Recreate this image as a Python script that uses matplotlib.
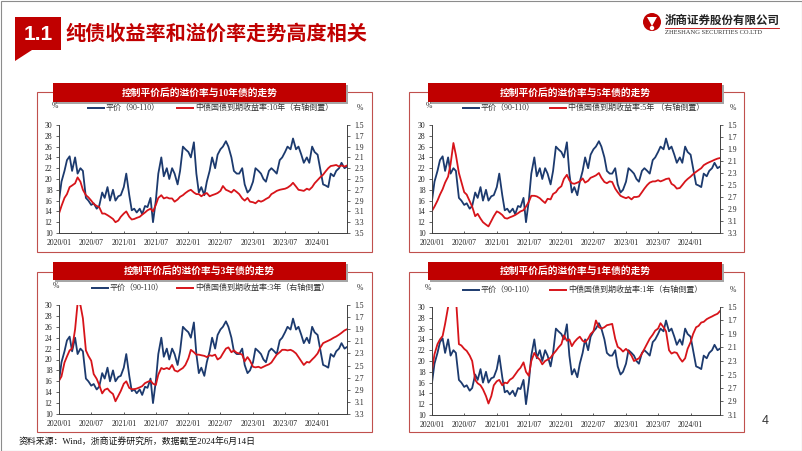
import matplotlib
matplotlib.use('Agg')
import matplotlib.pyplot as plt
import matplotlib.dates as mdates
from matplotlib.patches import Rectangle, Polygon, Circle
from matplotlib.ticker import FormatStrFormatter
import numpy as np
import pandas as pd

plt.rcParams['font.family'] = ['Liberation Serif', 'Noto Sans CJK SC', 'DejaVu Sans']

W, H = 802, 451
BLUE = '#1C3A6E'
RED = '#D7141A'
DARK_RED = '#C00000'

# semi-monthly observations, 2020-01-01 .. 2024-06-15
dates = pd.date_range('2020-01-01', '2024-06-15', freq='SMS')

# 平价（90-110）溢价率, %
premium = [
    16.0, 19.5, 21.5, 23.5, 24.2, 21.5, 24.0, 21.0, 22.0, 21.5, 16.5, 16.0,
    15.2, 15.5, 14.5, 15.0, 17.5, 16.5, 18.5, 16.0, 18.0, 16.0, 16.8, 17.0,
    18.5, 21.0, 17.0, 14.2, 14.5, 13.8, 14.5, 13.5, 15.0, 14.8, 16.5, 12.0,
    16.0, 21.0, 24.0, 20.5, 22.0, 20.0, 22.0, 21.0, 19.0, 21.5, 26.0, 25.5,
    25.0, 24.0, 26.8, 21.0, 17.5, 18.5, 17.0, 19.5, 21.5, 24.0, 22.0, 24.5,
    25.5, 26.0, 27.0, 26.0, 24.0, 21.5, 21.0, 21.0, 22.0, 19.0, 17.5, 18.0,
    19.5, 22.0, 21.5, 21.0, 20.0, 19.5, 21.5, 22.0, 21.5, 21.0, 23.5, 24.0,
    25.0, 26.0, 25.5, 27.5, 25.5, 26.0, 24.5, 23.0, 24.0, 23.0, 26.0, 25.0,
    24.5, 22.0, 19.0, 18.8, 18.5, 21.0, 20.5, 21.5, 22.0, 23.0, 22.0, 22.3,
]

# 中债国债到期收益率, %
cgb10 = [
    3.14, 3.00, 2.85, 2.78, 2.65, 2.62, 2.58, 2.47, 2.55, 2.70, 2.80, 2.84,
    2.90, 2.96, 3.00, 3.02, 3.14, 3.14, 3.17, 3.20, 3.24, 3.30, 3.27, 3.20,
    3.14, 3.10, 3.20, 3.25, 3.24, 3.22, 3.20, 3.16, 3.12, 3.08, 3.05, 3.10,
    2.98, 2.85, 2.80, 2.86, 2.84, 2.86, 2.86, 2.92, 2.88, 2.83, 2.80, 2.76,
    2.72, 2.70, 2.75, 2.78, 2.78, 2.82, 2.78, 2.76, 2.82, 2.80, 2.78, 2.76,
    2.72, 2.63, 2.70, 2.72, 2.75, 2.70, 2.74, 2.78, 2.86, 2.90, 2.85, 2.92,
    2.93, 2.95, 2.90, 2.92, 2.90, 2.87, 2.84, 2.78, 2.75, 2.72, 2.70, 2.69,
    2.68, 2.66, 2.62, 2.57, 2.64, 2.70, 2.71, 2.72, 2.68, 2.70, 2.65, 2.58,
    2.52, 2.47, 2.42, 2.36, 2.30, 2.26, 2.25, 2.24, 2.27, 2.25, 2.27, 2.25,
]
cgb5 = [
    2.93, 2.86, 2.76, 2.66, 2.57, 2.46, 2.36, 2.15, 1.80, 2.00, 2.30, 2.45,
    2.62, 2.66, 2.77, 2.86, 3.02, 2.98, 3.06, 3.12, 3.16, 3.19, 3.10, 3.02,
    2.94, 2.96, 3.00, 3.05, 3.06, 3.04, 3.02, 3.00, 2.97, 2.94, 2.92, 2.86,
    2.78, 2.68, 2.68, 2.69, 2.72, 2.76, 2.80, 2.73, 2.74, 2.65, 2.62, 2.56,
    2.52, 2.40, 2.33, 2.42, 2.47, 2.48, 2.46, 2.44, 2.39, 2.46, 2.43, 2.38,
    2.36, 2.34, 2.30, 2.38, 2.45, 2.47, 2.44, 2.45, 2.56, 2.62, 2.68, 2.70,
    2.72, 2.70, 2.74, 2.70, 2.70, 2.69, 2.62, 2.56, 2.50, 2.46, 2.44, 2.44,
    2.42, 2.44, 2.42, 2.40, 2.39, 2.48, 2.51, 2.56, 2.55, 2.50, 2.44, 2.40,
    2.36, 2.32, 2.28, 2.25, 2.22, 2.17, 2.14, 2.12, 2.10, 2.08, 2.06, 2.05,
]
cgb3 = [
    2.75, 2.68, 2.45, 2.35, 2.25, 2.22, 1.90, 1.47, 1.50, 1.72, 2.25, 2.34,
    2.42, 2.64, 2.72, 2.82, 2.96, 2.90, 2.88, 2.93, 2.97, 3.09, 3.00, 2.92,
    2.80, 2.76, 2.87, 2.89, 2.89, 2.88, 2.86, 2.84, 2.79, 2.77, 2.75, 2.80,
    2.82, 2.65, 2.54, 2.56, 2.54, 2.56, 2.49, 2.58, 2.60, 2.57, 2.54, 2.49,
    2.38, 2.24, 2.28, 2.32, 2.32, 2.33, 2.34, 2.36, 2.33, 2.34, 2.32, 2.40,
    2.37, 2.30, 2.22, 2.20, 2.28, 2.25, 2.29, 2.30, 2.32, 2.43, 2.36, 2.42,
    2.52, 2.53, 2.52, 2.54, 2.52, 2.50, 2.48, 2.45, 2.38, 2.32, 2.28, 2.24,
    2.24, 2.25, 2.24, 2.26, 2.30, 2.36, 2.43, 2.49, 2.44, 2.45, 2.40, 2.36,
    2.30, 2.21, 2.13, 2.11, 2.09, 2.07, 2.04, 2.02, 1.99, 1.96, 1.92, 1.90,
]
cgb1 = [
    2.44, 2.20, 2.05, 1.98, 1.93, 1.75, 1.50, 1.30, 1.15, 1.35, 2.05, 2.07,
    2.12, 2.15, 2.22, 2.30, 2.58, 2.63, 2.66, 2.72, 2.82, 2.93, 2.82, 2.66,
    2.60, 2.58, 2.66, 2.62, 2.63, 2.58, 2.55, 2.50, 2.44, 2.40, 2.32, 2.46,
    2.52, 2.30, 2.18, 2.24, 2.28, 2.35, 2.30, 2.28, 2.25, 2.20, 2.15, 2.10,
    2.05, 1.92, 2.00, 1.98, 2.08, 2.02, 1.97, 1.94, 2.00, 2.02, 1.97, 1.90,
    1.86, 1.70, 1.80, 1.82, 1.80, 1.77, 1.76, 1.75, 1.97, 2.09, 2.12, 2.16,
    2.12, 2.16, 2.22, 2.30, 2.28, 2.26, 2.19, 2.12, 2.04, 1.97, 1.91, 1.85,
    1.82, 1.74, 1.80, 1.86, 2.14, 2.19, 2.17, 2.18, 2.26, 2.31, 2.26, 2.12,
    2.02, 1.90, 1.80, 1.78, 1.73, 1.72, 1.68, 1.66, 1.64, 1.62, 1.60, 1.56,
]

yields = [cgb10, cgb5, cgb3, cgb1]
titles = ['控制平价后的溢价率与10年债的走势', '控制平价后的溢价率与5年债的走势',
          '控制平价后的溢价率与3年债的走势', '控制平价后的溢价率与1年债的走势']
blue_label = '平价（90-110）'
red_labels = ['中债国债到期收益率:10年（右轴倒置）', '中债国债到期收益率:5年 （右轴倒置）',
              '中债国债到期收益率:3年（右轴倒置）', '中债国债到期收益率:1年（右轴倒置）']
right_bottom = [3.5, 3.3, 3.3, 3.1]

# layout in pixels (x, y from top-left)
panels = [
    dict(box=(37, 92, 372, 252), banner=(53, 83, 346, 102), plot=(59, 125, 347, 233),
         leg_y=108, blue_x=88, red_x=177, pct_l=55, pct_r=360),
    dict(box=(409, 92, 744, 252), banner=(428, 83, 722, 102), plot=(432, 125, 720, 233),
         leg_y=108, blue_x=463, red_x=550, pct_l=429, pct_r=733),
    dict(box=(37, 272, 372, 432), banner=(53, 262, 346, 280), plot=(59, 305, 347, 414),
         leg_y=288, blue_x=92, red_x=177, pct_l=56, pct_r=360),
    dict(box=(409, 272, 744, 432), banner=(428, 262, 722, 280), plot=(432, 307, 720, 415),
         leg_y=290, blue_x=463, red_x=550, pct_l=428, pct_r=733),
]

fig = plt.figure(figsize=(W / 100, H / 100), dpi=100, facecolor='white')

bg = fig.add_axes([0, 0, 1, 1], zorder=0)
bg.set_xlim(0, W)
bg.set_ylim(H, 0)
bg.axis('off')

# slide frame
bg.add_patch(Rectangle((0.5, 0.5), W - 1, H - 1, fill=False, ec='#8c8c8c', lw=0.8))

# header
bg.add_patch(Polygon([(15, 17), (61, 17), (61, 50), (32, 50), (15, 61)], closed=True,
                     fc=DARK_RED, ec='none'))
bg.text(38, 34, '1.1', color='white', fontsize=15, fontweight='bold',
        family='Liberation Sans', ha='center', va='center')
bg.text(66, 33, '纯债收益率和溢价率走势高度相关', color=DARK_RED, fontsize=14.5,
        fontweight='bold', family=['Noto Sans CJK SC'], ha='left', va='center')

# logo
bg.add_patch(Circle((652, 22), 9, fc=DARK_RED, ec='none'))
bg.add_patch(Polygon([(647, 17), (652, 26), (657, 17)], closed=True, fc='white', ec='none'))
bg.add_patch(Circle((652, 28), 2.2, fc='white', ec='none'))
bg.text(665, 20, '浙商证券股份有限公司', fontsize=8.3, fontweight='bold', color='#222222',
        family=['Noto Sans CJK SC'], ha='left', va='center')
bg.plot([665, 779], [27.5, 27.5], color=DARK_RED, lw=0.6)
bg.text(665, 33, 'ZHESHANG SECURITIES CO.LTD', fontsize=4.7, color='#333333',
        ha='left', va='center')

for p, yld, title, rlab, rb in zip(panels, yields, titles, red_labels, right_bottom):
    x0, y0, x1, y1 = p['box']
    bg.add_patch(Rectangle((x0, y0), x1 - x0, y1 - y0, fill=False, ec='#C0504D', lw=0.8))
    bx0, by0, bx1, by1 = p['banner']
    bg.add_patch(Rectangle((bx0 + 2, by0 + 2), bx1 - bx0, by1 - by0, fc='#a6a6a6', ec='none'))
    bg.add_patch(Rectangle((bx0, by0), bx1 - bx0, by1 - by0, fc=DARK_RED, ec='none'))
    bg.text((bx0 + bx1) / 2, (by0 + by1) / 2, title, color='white', fontsize=7,
            fontweight='bold', ha='center', va='center')

    ly = p['leg_y']
    bg.plot([p['blue_x'], p['blue_x'] + 16], [ly, ly], color=BLUE, lw=1.4)
    bg.text(p['blue_x'] + 18, ly, blue_label, fontsize=5.8, color='#333333',
            ha='left', va='center')
    bg.plot([p['red_x'], p['red_x'] + 16], [ly, ly], color=RED, lw=1.4)
    bg.text(p['red_x'] + 18, ly, rlab, fontsize=5.8, color='#333333',
            ha='left', va='center')
    bg.text(p['pct_l'], ly - 2, '%', fontsize=5.5, color='#333333', ha='center', va='center')
    bg.text(p['pct_r'], ly, '%', fontsize=5.5, color='#333333', ha='center', va='center')

    l, t, r, b = p['plot']
    ax = fig.add_axes([l / W, 1 - b / H, (r - l) / W, (b - t) / H], zorder=2)
    ax.set_facecolor('none')
    ax.plot(dates, premium, color=BLUE, lw=1.3)
    ax.set_ylim(10, 30)
    ax.set_yticks(range(10, 31, 2))
    ax.set_xlim(dates[0], dates[-1])
    ax.xaxis.set_major_locator(mdates.MonthLocator(bymonth=[1, 7]))
    ax.xaxis.set_major_formatter(mdates.DateFormatter('%Y/%m'))

    ax2 = ax.twinx()
    ax2.plot(dates, yld, color=RED, lw=1.3)
    ax2.set_ylim(rb, 1.5)
    ax2.set_yticks(np.arange(1.5, rb + 0.01, 0.2))
    ax2.yaxis.set_major_formatter(FormatStrFormatter('%.1f'))

    for a in (ax, ax2):
        a.spines['top'].set_visible(False)
        for s in ('left', 'right', 'bottom'):
            a.spines[s].set_color('#404040')
            a.spines[s].set_linewidth(0.6)
    ax.tick_params(axis='y', labelsize=5.5, length=1.9, width=0.5, pad=2.8,
                   colors='#222222')
    ax.tick_params(axis='x', labelsize=5.5, length=1.8, width=0.5, pad=4,
                   direction='in', colors='#222222')
    ax2.tick_params(axis='y', labelsize=5.5, length=2.2, width=0.5, pad=3,
                    colors='#222222')

bg.text(765, 421, '4', fontsize=9, color='#333333', family='Liberation Sans',
        ha='center', va='center')
bg.text(19, 442, '资料来源：Wind，浙商证券研究所，数据截至2024年6月14日', fontsize=6.4,
        color='#111111', ha='left', va='center')

fig.savefig('out.png', dpi=100, facecolor='white')
